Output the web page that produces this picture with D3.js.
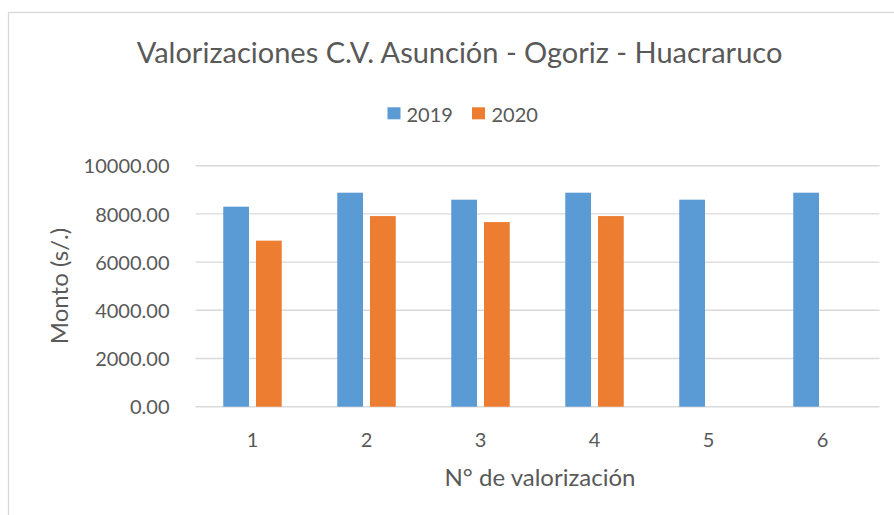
<!DOCTYPE html>
<html>
<head>
<meta charset="utf-8">
<script src="https://cdn.jsdelivr.net/npm/d3@7"></script>
<style>
  html, body { margin: 0; padding: 0; background: #ffffff; }
  svg { display: block; }
  text { font-family: Lato, "Noto Sans", sans-serif; fill: #595959; }
</style>
</head>
<body>
<svg id="chart" width="894" height="515"></svg>
<script>
const categories = ["1", "2", "3", "4", "5", "6"];
const seriesNames = ["2019", "2020"];
const values2019 = [8300, 8880, 8590, 8880, 8590, 8880];
const values2020 = [6890, 7910, 7660, 7910, null, null];
const yTicks = [0, 2000, 4000, 6000, 8000, 10000];
const colors = ["#5b9bd5", "#ed7d31"];
const titleText = "Valorizaciones C.V. Asunción - Ogoriz - Huacraruco";
const xTitle = "N° de valorización";
const yTitle = "Monto (s/.)";

const svg = d3.select("#chart");

// outer chart border
svg.append("rect")
  .attr("x", 8.5).attr("y", 12.5)
  .attr("width", 920).attr("height", 540)
  .attr("fill", "#ffffff")
  .attr("stroke", "#d9d9d9").attr("stroke-width", 1.3);

const plot = { left: 195.5, right: 879.5, top: 165.7, bottom: 406.7 };

const x0 = d3.scaleBand().domain(categories).range([plot.left, plot.right]).padding(0);
const bw = x0.bandwidth();
const x1 = d3.scaleBand().domain(seriesNames)
  .range([bw * 0.2435, bw * 0.7565]).paddingInner(0.214);
const y = d3.scaleLinear().domain([0, 10000]).range([plot.bottom, plot.top]);

// gridlines
svg.append("g").selectAll("line").data(yTicks).join("line")
  .attr("x1", plot.left).attr("x2", plot.right)
  .attr("y1", d => y(d)).attr("y2", d => y(d))
  .attr("stroke", "#d9d9d9").attr("stroke-width", 1.4);

// y axis labels
const yAxis = d3.axisLeft(y).tickValues(yTicks).tickFormat(d3.format(".2f")).tickSize(0).tickPadding(0);
const gy = svg.append("g").attr("transform", `translate(169.5,0)`).call(yAxis);
gy.select(".domain").remove();
gy.selectAll("text").style("font-family", "Lato, sans-serif").style("font-size", "20px")
  .attr("fill", "#595959").attr("dy", "0.36em");

// x axis labels
const xAxis = d3.axisBottom(x0).tickSize(0).tickPadding(0);
const gx = svg.append("g").attr("transform", `translate(0,${plot.bottom})`).call(xAxis);
gx.select(".domain").remove();
gx.selectAll("text").style("font-family", "Lato, sans-serif").style("font-size", "20px")
  .attr("fill", "#595959").attr("dy", null).attr("y", 40.5);

// bars
const rows = categories.map((c, i) => ({ cat: c, vals: [values2019[i], values2020[i]] }));
const groups = svg.append("g").selectAll("g").data(rows).join("g")
  .attr("transform", d => `translate(${x0(d.cat)},0)`);
groups.selectAll("rect")
  .data(d => seriesNames.map((s, k) => ({ s, v: d.vals[k], k })).filter(e => e.v != null))
  .join("rect")
  .attr("x", d => x1(d.s))
  .attr("width", x1.bandwidth())
  .attr("y", d => y(d.v))
  .attr("height", d => y(0) - y(d.v))
  .attr("fill", d => colors[d.k]);

// title
svg.append("text").attr("x", 459.5).attr("y", 63).attr("text-anchor", "middle")
  .style("font-size", "29px").text(titleText);

// legend
const legendItems = [
  { name: seriesNames[0], color: colors[0], sx: 387.5, tx: 406.5 },
  { name: seriesNames[1], color: colors[1], sx: 472, tx: 491.5 }
];
const lg = svg.append("g").selectAll("g").data(legendItems).join("g");
lg.append("rect").attr("x", d => d.sx).attr("y", 107.3).attr("width", 13).attr("height", 12)
  .attr("fill", d => d.color);
lg.append("text").attr("x", d => d.tx).attr("y", 121.7).style("font-size", "20px").text(d => d.name);

// axis titles
svg.append("text").attr("x", 540).attr("y", 485.5).attr("text-anchor", "middle")
  .style("font-size", "24px").text(xTitle);
svg.append("text").attr("transform", "translate(68,286) rotate(-90)")
  .attr("text-anchor", "middle").style("font-size", "24px").text(yTitle);
</script>
</body>
</html>
